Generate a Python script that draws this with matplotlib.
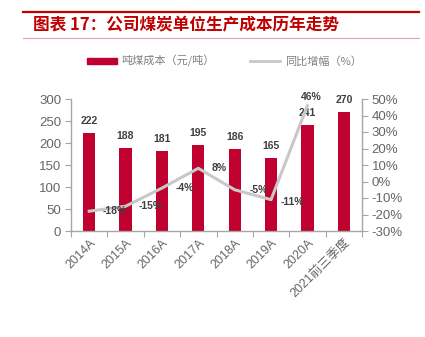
import matplotlib
matplotlib.use("Agg")
import matplotlib.pyplot as plt
from matplotlib.lines import Line2D
from matplotlib.patches import Rectangle

plt.rcParams['font.family'] = ['Liberation Sans', 'Noto Sans CJK SC', 'DejaVu Sans']

categories = ["2014A", "2015A", "2016A", "2017A", "2018A", "2019A", "2020A", "2021前三季度"]
cost = [222, 188, 181, 195, 186, 165, 241, 270]
yoy = [-18, -15, -4, 8, -5, -11, 46]
title = "图表 17：公司煤炭单位生产成本历年走势"
legend_bar = "吨煤成本（元/吨）"
legend_line = "同比增幅（%）"

BAR = "#C0002F"
LINE = "#C8C8C8"
TXT = "#666666"
AX = "#A6A6A6"

W, H = 425, 337
fig = plt.figure(figsize=(W / 100, H / 100), dpi=100)

def fx(px):
    return px / W

def fy(py):
    return 1 - py / H

# header lines and title
fig.add_artist(Line2D([fx(23), fx(419)], [fy(11.5), fy(11.5)], color="#C00000", lw=1.6))
fig.add_artist(Line2D([fx(23), fx(419)], [fy(38), fy(38)], color="#E8A0A8", lw=0.8))
fig.text(fx(33), fy(25), title, color="#C00000", fontsize=12, fontweight="bold",
         va="center", ha="left", family=['Noto Sans CJK SC', 'DejaVu Sans'])

# legend
fig.add_artist(Rectangle((fx(87), fy(64)), fx(30), fy(58) - fy(64), color=BAR,
                         transform=fig.transFigure))
fig.text(fx(121), fy(61), legend_bar, color="#808080", fontsize=8, va="center", ha="left",
         family=['Noto Sans CJK SC', 'DejaVu Sans'])
fig.add_artist(Line2D([fx(250), fx(280)], [fy(61), fy(61)], color=LINE, lw=2))
fig.text(fx(285), fy(61), legend_line, color="#808080", fontsize=8, va="center", ha="left",
         family=['Noto Sans CJK SC', 'DejaVu Sans'])

ax = fig.add_axes([fx(71), fy(231), fx(362) - fx(71), fy(99) - fy(231)])
x = list(range(len(categories)))
ax.bar(x, cost, width=0.34, color=BAR, zorder=2)
for xi, v in zip(x, cost):
    ax.annotate(str(v), (xi, v), xytext=(0, 12), textcoords="offset pixels",
                ha="center", va="center", fontsize=7.5, fontweight="bold", color="#404040")

ax.set_xlim(-0.5, len(categories) - 0.5)
ax.set_ylim(0, 300)
ax.set_yticks(range(0, 301, 50))
ax.set_xticks([i - 0.5 for i in range(len(categories) + 1)], minor=False)
ax.set_xticklabels([])
ax.set_xticks(x, minor=True)
ax.set_xticklabels(categories, minor=True, rotation=45, ha="right", rotation_mode="anchor",
                   fontsize=9, color=TXT)
ax.tick_params(axis="x", which="major", length=4, color=AX, direction="out")
ax.tick_params(axis="x", which="minor", length=0, pad=4)
ax.tick_params(axis="y", length=4, color=AX, labelsize=9.5, labelcolor=TXT, pad=3)
for s in ["top", "right"]:
    ax.spines[s].set_visible(False)
for s in ["left", "bottom"]:
    ax.spines[s].set_color(AX)
    ax.spines[s].set_linewidth(1.0)

ax2 = ax.twinx()
ax2.plot(x[:len(yoy)], yoy, color=LINE, lw=2.2, zorder=3)
ax2.set_ylim(-30, 50)
ax2.set_yticks(range(-30, 51, 10))
ax2.set_yticklabels([f"{v}%" for v in range(-30, 51, 10)])
ax2.tick_params(axis="y", length=4, color=AX, labelsize=9.5, labelcolor=TXT, pad=3)
for s in ["top", "left", "bottom"]:
    ax2.spines[s].set_visible(False)
ax2.spines["right"].set_color(AX)
ax2.spines["right"].set_linewidth(1.0)

offsets = [(26, 0), (25, 0), (23, 0), (21, 0), (24, 0), (21, -2), (4, 9)]
for xi, v, (dx, dy) in zip(x, yoy, offsets):
    ax2.annotate(f"{v}%", (xi, v), xytext=(dx, dy), textcoords="offset pixels",
                 ha="center", va="center", fontsize=7.5, fontweight="bold", color="#404040")

fig.savefig("out.png", dpi=100)
